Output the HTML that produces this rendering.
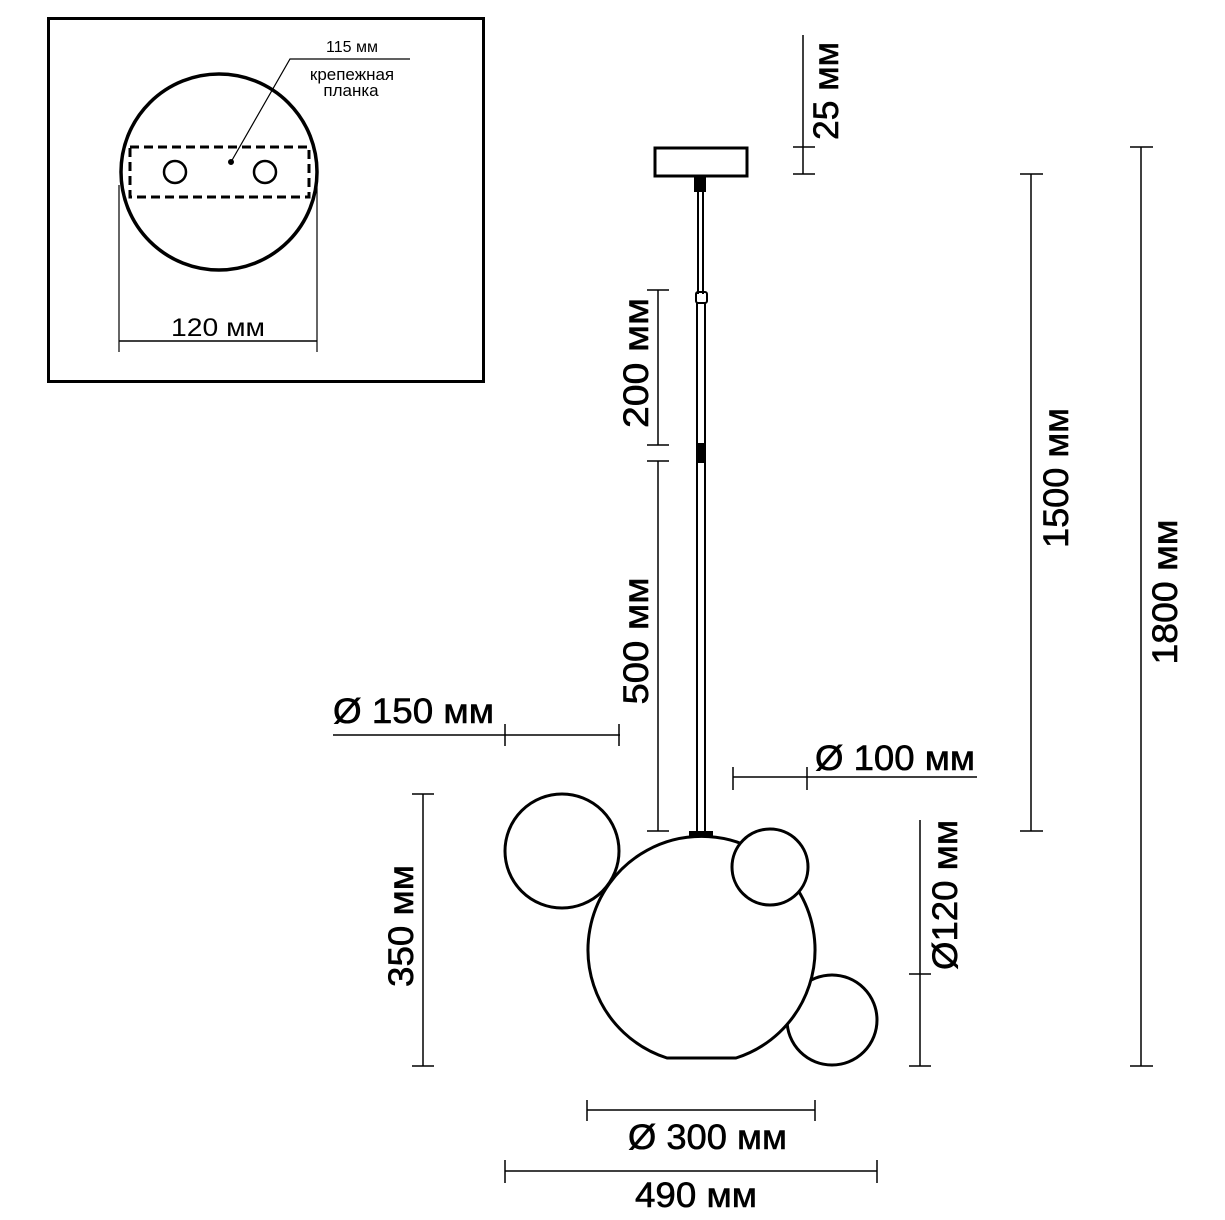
<!DOCTYPE html>
<html><head><meta charset="utf-8"><style>html,body{margin:0;padding:0;background:#fff}svg{display:block}</style></head>
<body>
<svg width="1225" height="1220" viewBox="0 0 1225 1220" xmlns="http://www.w3.org/2000/svg" font-family="Liberation Sans, sans-serif" fill="none" stroke="#000">
<rect x="48.5" y="18.5" width="435" height="363" stroke-width="3"/>
<circle cx="219" cy="172" r="98" stroke-width="3.5"/>
<rect x="130" y="147" width="179" height="50" stroke-width="3" stroke-dasharray="9,5"/>
<circle cx="175" cy="172" r="11" stroke-width="2.5"/>
<circle cx="265" cy="172" r="11" stroke-width="2.5"/>
<circle cx="231" cy="162" r="2.5" fill="#000"/>
<polyline points="231,162 290,59 410,59" stroke-width="1.2"/>
<g fill="#000" stroke="none" font-size="17" text-anchor="middle">
<text x="352" y="52" font-size="16">115 мм</text>
<text x="352" y="80">крепежная</text>
<text x="351" y="96">планка</text>
<text x="218" y="336" font-size="25" textLength="94" lengthAdjust="spacingAndGlyphs">120 мм</text>
</g>
<line x1="119" y1="185" x2="119" y2="352" stroke-width="1.2"/>
<line x1="317" y1="185" x2="317" y2="352" stroke-width="1.2"/>
<line x1="119" y1="341" x2="317" y2="341" stroke-width="1.5"/>

<rect x="655" y="148" width="92" height="28" stroke-width="3"/>
<rect x="694" y="177" width="12" height="15" fill="#000" stroke="none"/>
<line x1="698" y1="190" x2="698" y2="294" stroke-width="2"/>
<line x1="703" y1="190" x2="703" y2="294" stroke-width="2"/>
<rect x="696" y="292" width="11" height="11" rx="2" stroke-width="2"/>
<line x1="697" y1="303" x2="697" y2="832" stroke-width="2"/>
<line x1="705" y1="303" x2="705" y2="832" stroke-width="2"/>
<rect x="697" y="443" width="8" height="20" fill="#000" stroke="none"/>
<rect x="689" y="831" width="24" height="7" fill="#000" stroke="none"/>
<circle cx="832" cy="1020" r="45" stroke-width="3" fill="#fff"/>
<path d="M667,1058 L736,1058 A113.5,113.5 0 1 0 667,1058 Z" stroke-width="3" fill="#fff"/>
<circle cx="562" cy="851" r="57" stroke-width="3" fill="#fff"/>
<circle cx="770" cy="867" r="38" stroke-width="3" fill="#fff"/>

<g stroke-width="1.5">
<line x1="803" y1="35" x2="803" y2="174"/><line x1="793" y1="147" x2="815" y2="147"/><line x1="793" y1="174" x2="815" y2="174"/>
<line x1="1031" y1="174" x2="1031" y2="831"/><line x1="1020" y1="174" x2="1043" y2="174"/><line x1="1020" y1="831" x2="1043" y2="831"/>
<line x1="1141" y1="147" x2="1141" y2="1066"/><line x1="1130" y1="147" x2="1153" y2="147"/><line x1="1130" y1="1066" x2="1153" y2="1066"/>
<line x1="658" y1="290" x2="658" y2="445"/><line x1="647" y1="290" x2="669" y2="290"/><line x1="647" y1="445" x2="669" y2="445"/>
<line x1="658" y1="461" x2="658" y2="831"/><line x1="647" y1="461" x2="669" y2="461"/><line x1="647" y1="831" x2="669" y2="831"/>
<line x1="333" y1="735" x2="620" y2="735"/><line x1="505" y1="724" x2="505" y2="746"/><line x1="619" y1="724" x2="619" y2="746"/>
<line x1="733" y1="777" x2="977" y2="777"/><line x1="733" y1="767" x2="733" y2="790"/><line x1="807" y1="767" x2="807" y2="790"/>
<line x1="423" y1="794" x2="423" y2="1066"/><line x1="412" y1="794" x2="434" y2="794"/><line x1="412" y1="1066" x2="434" y2="1066"/>
<line x1="920" y1="820" x2="920" y2="1066"/><line x1="909" y1="974" x2="931" y2="974"/><line x1="909" y1="1066" x2="931" y2="1066"/>
<line x1="587" y1="1110" x2="815" y2="1110"/><line x1="587" y1="1100" x2="587" y2="1121"/><line x1="815" y1="1100" x2="815" y2="1121"/>
<line x1="505" y1="1171" x2="877" y2="1171"/><line x1="505" y1="1160" x2="505" y2="1183"/><line x1="877" y1="1160" x2="877" y2="1183"/>
</g>

<g fill="#000" stroke="#000" stroke-width="0.6" font-size="35">
<text x="333" y="723" textLength="161" lengthAdjust="spacingAndGlyphs">Ø 150 мм</text>
<text x="815" y="770" textLength="160" lengthAdjust="spacingAndGlyphs">Ø 100 мм</text>
<text x="628" y="1149" textLength="159" lengthAdjust="spacingAndGlyphs">Ø 300 мм</text>
<text x="635" y="1207" textLength="122" lengthAdjust="spacingAndGlyphs">490 мм</text>
<g text-anchor="middle">
<text transform="translate(838,91) rotate(-90)" textLength="98" lengthAdjust="spacingAndGlyphs">25 мм</text>
<text transform="translate(648,363) rotate(-90)" textLength="130" lengthAdjust="spacingAndGlyphs">200 мм</text>
<text transform="translate(648,641) rotate(-90)" textLength="127" lengthAdjust="spacingAndGlyphs">500 мм</text>
<text transform="translate(1068,478) rotate(-90)" textLength="140" lengthAdjust="spacingAndGlyphs">1500 мм</text>
<text transform="translate(1177,592) rotate(-90)" textLength="145" lengthAdjust="spacingAndGlyphs">1800 мм</text>
<text transform="translate(413,926) rotate(-90)" textLength="122" lengthAdjust="spacingAndGlyphs">350 мм</text>
<text transform="translate(957,895) rotate(-90)" textLength="150" lengthAdjust="spacingAndGlyphs">Ø120 мм</text>
</g>
</g>
</svg>
</body></html>
